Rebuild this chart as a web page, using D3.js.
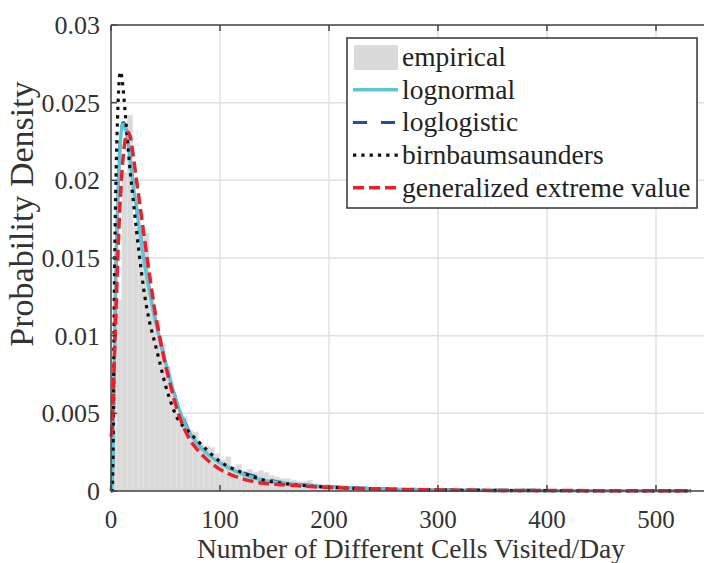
<!DOCTYPE html>
<html>
<head>
<meta charset="utf-8">
<script src="https://cdn.jsdelivr.net/npm/d3@7"></script>
<style>
  body { margin: 0; background: #fff; }
  svg { font-family: "Liberation Serif", "Times New Roman", serif; }
</style>
</head>
<body>
<svg id="chart" width="704" height="563"></svg>
<script>
// histogram: bins of width 5 starting at 0
const binWidth = 5;
const empirical = [
  0.0040, 0.0123, 0.0205, 0.0242, 0.0170, 0.0167, 0.0166, 0.0125, 0.0110, 0.0095,
  0.0080, 0.0062, 0.0050, 0.0048, 0.0039, 0.0038, 0.0030, 0.0029, 0.0028, 0.0024,
  0.0020, 0.0022, 0.0016, 0.0017, 0.0013, 0.0014, 0.0012, 0.0013, 0.0012, 0.0010,
  0.0009, 0.0008, 0.0008, 0.0007, 0.0006, 0.0006, 0.0007, 0.0005, 0.0004, 0.0004,
  0.00035, 0.0003, 0.0003, 0.00028, 0.00025, 0.00022, 0.0002, 0.0002, 0.00018, 0.00016,
  0.00015, 0.00014, 0.00013, 0.00012, 0.00011, 0.0001, 0.0001, 0.00009, 0.00009, 0.00008,
  0.00008, 0.00007, 0.00007, 0.00006, 0.00006, 0.00005, 0.00005, 0.00005, 0.00004, 0.00004,
  0.00004, 0.00003, 0.00003, 0.00003, 0.00003, 0.00002, 0.00002, 0.00002, 0.00002, 0.00002,
  0.00002, 0.00002, 0.00001, 0.00002, 0.00001, 0.00002, 0.00001, 0.00001, 0.00001, 0.00001,
  0.00001, 0.00001, 0.00001, 0.00001, 0.00001, 0.00001, 0.00001, 0.00001, 0.00001, 0.00001,
  0.00001, 0.00001, 0.00001, 0.00001, 0.00001, 0.00001, 0.00001
];

// fitted pdfs, read at these x values
const xs = [0, 1, 2, 3, 4, 5, 6, 7, 8, 9, 10, 11, 12, 14, 16, 18, 20, 23, 26, 30, 35, 40, 45, 50, 55, 60,
  70, 80, 90, 100, 120, 140, 160, 180, 200, 250, 300, 350, 400, 450, 500, 532];
const lognormal = [0, 0.0008, 0.0035, 0.0080, 0.0125, 0.0158, 0.0183, 0.0203, 0.0218, 0.0228, 0.0234, 0.0236, 0.0236,
  0.0231, 0.0222, 0.0211, 0.0199, 0.0184, 0.0169, 0.0150, 0.0130, 0.0112, 0.0097, 0.0083, 0.0070, 0.0058,
  0.0040, 0.0030, 0.0023, 0.0018, 0.0011, 0.0007, 0.0005, 0.00036, 0.00027, 0.00013, 0.00007, 0.00004, 0.00002, 0.00001, 0.00001, 0.00001];
const loglogistic = [0, 0.0005, 0.0030, 0.0074, 0.0120, 0.0157, 0.0184, 0.0205, 0.0220, 0.0230, 0.0235, 0.0237, 0.0237,
  0.0232, 0.0223, 0.0212, 0.0200, 0.0185, 0.0170, 0.0151, 0.0131, 0.0113, 0.0097, 0.0083, 0.0070, 0.0058,
  0.0041, 0.0030, 0.0023, 0.0018, 0.0012, 0.0008, 0.00052, 0.00038, 0.00029, 0.00015, 0.00009, 0.00006, 0.00004, 0.00003, 0.00002, 0.00002];
const birnbaum = [0, 0.0000, 0.0030, 0.0125, 0.0180, 0.0215, 0.0240, 0.0258, 0.0268, 0.0270, 0.0266, 0.0260, 0.0252,
  0.0235, 0.0218, 0.0203, 0.0190, 0.0170, 0.0152, 0.0130, 0.0110, 0.0096, 0.0082, 0.0068, 0.0057, 0.0048,
  0.0039, 0.0032, 0.0025, 0.0019, 0.0012, 0.0007, 0.00047, 0.00033, 0.00024, 0.00012, 0.00006, 0.00003, 0.00002, 0.00001, 0.000005, 0];
const gev = [0.0035, 0.0040, 0.0062, 0.0084, 0.0105, 0.0125, 0.0146, 0.0165, 0.0181, 0.0194, 0.0205, 0.0214, 0.0221,
  0.0229, 0.0231, 0.0227, 0.0218, 0.0202, 0.0187, 0.0166, 0.0141, 0.0117, 0.0098, 0.0081, 0.0067, 0.0054,
  0.0036, 0.0026, 0.0019, 0.0014, 0.0008, 0.0005, 0.0004, 0.0003, 0.00023, 0.00012, 0.00007, 0.00004, 0.00003, 0.00002, 0.00001, 0.00001];

const xTicks = [0, 100, 200, 300, 400, 500];
const yTicks = [0, 0.005, 0.01, 0.015, 0.02, 0.025, 0.03];
const legendNames = ["empirical", "lognormal", "loglogistic", "birnbaumsaunders", "generalized extreme value"];

const svg = d3.select("#chart");
const pLeft = 111, pRight = 765, pTop = 25, pBottom = 491;
const textCol = "#333";

let scX = d3.scaleLinear().domain([0, 600]).range([pLeft, pRight]);
let scY = d3.scaleLinear().domain([0, 0.03]).range([pBottom, pTop]);

// grid
let grid = svg.append("g").attr("stroke", "#e0e0e0").attr("stroke-width", 1.5);
grid.selectAll(".gx").data(xTicks.slice(1)).enter().append("line")
  .attr("x1", d => scX(d)).attr("x2", d => scX(d)).attr("y1", pTop).attr("y2", pBottom);
grid.selectAll(".gy").data(yTicks.slice(1)).enter().append("line")
  .attr("x1", pLeft).attr("x2", pRight).attr("y1", d => scY(d)).attr("y2", d => scY(d));

// histogram
svg.append("g").selectAll("rect").data(empirical).enter().append("rect")
  .attr("x", (d, i) => scX(i * binWidth))
  .attr("width", scX(binWidth) - scX(0))
  .attr("y", d => scY(d))
  .attr("height", d => scY(0) - scY(d))
  .attr("fill", "#dadada").attr("stroke", "#e4e4e4").attr("stroke-width", 0.6);

// fitted curves (legend order); drawing order puts loglogistic under lognormal
let line = d3.line().x((d, i) => scX(xs[i])).y(d => scY(d)).curve(d3.curveMonotoneX);
let styles = [
  {data: lognormal, color: "#5cc6d9", width: 3.5, dash: null},
  {data: loglogistic, color: "#1f4fa0", width: 3, dash: "14,14"},
  {data: birnbaum, color: "#111", width: 3.2, dash: "3.3,5"},
  {data: gev, color: "#ee1f2a", width: 3.5, dash: "11,5"}
];
let curves = svg.append("g");
[1, 0, 2, 3].forEach(k => {
  let s = styles[k];
  curves.append("path").attr("d", line(s.data))
    .attr("fill", "none").attr("stroke", s.color).attr("stroke-width", s.width)
    .attr("stroke-dasharray", s.dash);
});

// frame
let frame = svg.append("g").attr("stroke", "#444").attr("stroke-width", 1.5).attr("fill", "none");
frame.append("path").attr("d", `M${pLeft},${pTop}H${pRight}M${pLeft},${pTop}V${pBottom}H${pRight}`);

// ticks (inward, on both sides)
frame.selectAll(".tx").data(xTicks).enter().append("path")
  .attr("d", d => `M${scX(d)},${pBottom}v-6M${scX(d)},${pTop}v6`);
frame.selectAll(".ty").data(yTicks).enter().append("path")
  .attr("d", d => `M${pLeft},${scY(d)}h6`);

// tick labels
svg.append("g").selectAll("text").data(xTicks).enter().append("text")
  .text(d => d).attr("x", d => scX(d)).attr("y", 528)
  .attr("text-anchor", "middle").attr("font-size", 25).attr("fill", textCol);
svg.append("g").selectAll("text").data(yTicks).enter().append("text")
  .text(d => d).attr("x", 100).attr("y", d => scY(d) + 9)
  .attr("text-anchor", "end").attr("font-size", 26).attr("fill", textCol);

// axis labels
svg.append("text").text("Number of Different Cells Visited/Day")
  .attr("x", 411).attr("y", 558).attr("text-anchor", "middle")
  .attr("font-size", 27.5).attr("fill", textCol);
svg.append("text").text("Probability Density")
  .attr("transform", "translate(33,214) rotate(-90)").attr("text-anchor", "middle")
  .attr("font-size", 34).attr("fill", textCol);

// legend
let lg = svg.append("g");
lg.append("rect").attr("x", 347).attr("y", 38).attr("width", 350).attr("height", 170)
  .attr("fill", "#fff").attr("stroke", "#333").attr("stroke-width", 1.5);
let rowY = i => 57 + i * 32.7;
lg.append("rect").attr("x", 354).attr("y", rowY(0) - 12).attr("width", 44).attr("height", 25).attr("fill", "#dadada");
styles.forEach((s, i) => {
  lg.append("line").attr("x1", 353).attr("x2", 398).attr("y1", rowY(i + 1)).attr("y2", rowY(i + 1))
    .attr("stroke", s.color).attr("stroke-width", s.width).attr("stroke-dasharray", s.dash);
});
lg.selectAll("text").data(legendNames).enter().append("text")
  .text(d => d).attr("x", 402).attr("y", (d, i) => rowY(i) + 9)
  .attr("font-size", 27.5).attr("fill", "#222");
</script>
</body>
</html>
